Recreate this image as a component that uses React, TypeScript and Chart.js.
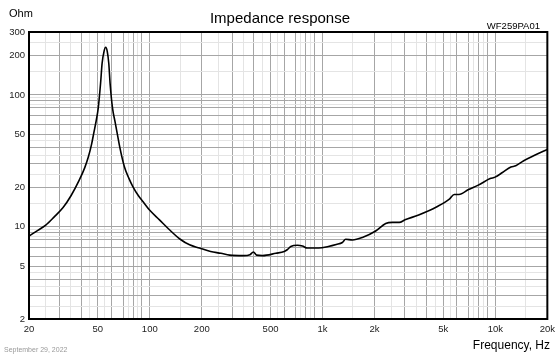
import React, { useEffect, useRef } from "react";
import { Chart, registerables } from "chart.js";

Chart.register(...registerables);

const freqHz = [
  20, 22.5, 25, 28, 31.5, 35, 39, 42, 44, 46, 47.5, 49, 50.3, 51.9, 53, 54.4, 55.6, 56.7, 57.9, 59, 60.9,
  62.9, 65, 67.1, 71.3, 75.5, 79.8, 86, 91.5, 99.7, 113.8, 130, 150, 170, 194, 225, 258, 290, 348, 380, 398, 415,
  450, 537, 600, 624, 655, 716, 765, 815, 950, 1080, 1200, 1302, 1360, 1490, 1700, 2030, 2320, 2540, 2780,
  3000, 3600, 4590, 5420, 5780, 6160, 7000, 7970, 9340, 9970, 11000, 12300, 13130, 14600, 17000, 20000,
];
const impedanceOhm = [
  8.5, 9.4, 10.3, 11.9, 14.0, 17.2, 22.5, 28, 33.5, 42, 52, 64, 79, 122, 174, 215, 230, 215, 174, 120, 79,
  63, 50, 40, 28.5, 23.5, 20.2, 17.2, 15.5, 13.4, 11.3, 9.5, 8.05, 7.3, 6.9, 6.5, 6.3, 6.1, 6.05, 6.15, 6.45, 6.1,
  6.05, 6.3, 6.5, 6.7, 7.1, 7.25, 7.15, 6.9, 6.9, 7.1, 7.35, 7.6, 8.05, 7.95, 8.3, 9.3, 10.6, 10.8, 10.8,
  11.3, 12.3, 14.2, 16.2, 17.6, 17.6, 19.2, 20.7, 23.2, 23.8, 25.8, 28.4, 29, 31.7, 35, 38.6,
];

const xTickLabels = [20, 50, 100, 200, 500, 1000, 2000, 5000, 10000, 20000];
const xTickText = ["20", "50", "100", "200", "500", "1k", "2k", "5k", "10k", "20k"];
const yTickLabels = [2, 5, 10, 20, 50, 100, 200, 300];
const yTickText = ["2", "5", "10", "20", "50", "100", "200", "300"];

const xMajorMults = [1, 2, 3, 4, 5, 6, 7, 8, 9];
const xMinorMults = [1.5, 2.5, 3.5, 4.5, 5.5, 7.5, 8.5];
const yMajorMults = [1, 2, 3, 4, 5, 6, 7, 8, 9];
const yMinorMults = [1.5, 2.5, 3.5, 4.5, 8.5, 9.5];

const FONT = "'Liberation Sans', Arial, sans-serif";

function buildGrid(min: number, max: number, major: number[], minor: number[]) {
  const out: { value: number; major: boolean }[] = [];
  for (let d = 1; d <= 100000; d *= 10) {
    major.forEach((m) => {
      const v = +(m * d).toPrecision(6);
      if (v >= min && v <= max) out.push({ value: v, major: true });
    });
    minor.forEach((m) => {
      const v = +(m * d).toPrecision(6);
      if (v >= min && v <= max) out.push({ value: v, major: false });
    });
  }
  out.sort((a, b) => a.value - b.value);
  return out;
}

const textPlugin = {
  id: "texts",
  afterDraw(chart: any) {
    const { ctx, chartArea } = chart;
    ctx.save();
    ctx.strokeStyle = "#000";
    ctx.lineWidth = 2;
    ctx.strokeRect(chartArea.left, chartArea.top, chartArea.right - chartArea.left, chartArea.bottom - chartArea.top);
    ctx.fillStyle = "#000";
    ctx.textBaseline = "alphabetic";
    ctx.font = `15px ${FONT}`;
    ctx.textAlign = "center";
    ctx.fillText("Impedance response", 280, 23);
    ctx.font = `11px ${FONT}`;
    ctx.textAlign = "left";
    ctx.fillText("Ohm", 9, 17);
    ctx.font = `9.5px ${FONT}`;
    ctx.textAlign = "right";
    ctx.fillText("WF259PA01", 540, 28.5);
    ctx.font = `12px ${FONT}`;
    ctx.fillText("Frequency, Hz", 550, 349);
    ctx.font = `7px ${FONT}`;
    ctx.textAlign = "left";
    ctx.fillStyle = "#999";
    ctx.fillText("September 29, 2022", 4, 352);
    ctx.restore();
  },
};

export default function App() {
  const ref = useRef<HTMLCanvasElement>(null);
  useEffect(() => {
    if (!ref.current) return;
    const xGrid = buildGrid(20, 20000, xMajorMults, xMinorMults);
    const yGrid = buildGrid(2, 300, yMajorMults, yMinorMults);
    const xMajorSet = new Set(xGrid.filter((g) => g.major).map((g) => g.value));
    const yMajorSet = new Set(yGrid.filter((g) => g.major).map((g) => g.value));
    const chart = new Chart(ref.current, {
      type: "line",
      data: {
        datasets: [
          {
            data: freqHz.map((f, i) => ({ x: f, y: impedanceOhm[i] })),
            borderColor: "#000",
            borderWidth: 1.6,
            pointRadius: 0,
            cubicInterpolationMode: "monotone",
            fill: false,
          },
        ],
      },
      options: {
        responsive: false,
        animation: false,
        layout: { padding: { left: 0, top: 32, right: 11, bottom: 0 } },
        plugins: { legend: { display: false }, tooltip: { enabled: false }, title: { display: false } },
        scales: {
          x: {
            type: "logarithmic",
            min: 20,
            max: 20000,
            afterBuildTicks: (scale: any) => {
              scale.ticks = xGrid.map((g) => ({ value: g.value }));
            },
            afterFit: (scale: any) => {
              scale.height = 35;
            },
            grid: {
              drawTicks: false,
              color: (ctx: any) => (xMajorSet.has(ctx.tick?.value) ? "#a6a6a6" : "#e4e4e4"),
              lineWidth: 1,
            },
            border: { display: false },
            ticks: {
              autoSkip: false,
              maxRotation: 0,
              padding: 5,
              color: "#222",
              font: { family: FONT, size: 9.5 },
              callback: (v: any) => {
                const i = xTickLabels.indexOf(Number(v));
                return i >= 0 ? xTickText[i] : "";
              },
            },
          },
          y: {
            type: "logarithmic",
            min: 2,
            max: 300,
            afterBuildTicks: (scale: any) => {
              scale.ticks = yGrid.map((g) => ({ value: g.value }));
            },
            afterFit: (scale: any) => {
              scale.width = 29;
            },
            grid: {
              drawTicks: false,
              color: (ctx: any) => (yMajorSet.has(ctx.tick?.value) ? "#a6a6a6" : "#e4e4e4"),
              lineWidth: 1,
            },
            border: { display: false },
            ticks: {
              autoSkip: false,
              padding: 4,
              color: "#222",
              font: { family: FONT, size: 9.5 },
              callback: (v: any) => {
                const i = yTickLabels.indexOf(Number(v));
                return i >= 0 ? yTickText[i] : "";
              },
            },
          },
        },
      },
      plugins: [textPlugin],
    });
    return () => chart.destroy();
  }, []);
  return (
    <div style={{ position: "fixed", left: 0, top: 0, width: 560, height: 354, background: "#fff" }}>
      <canvas ref={ref} width={560} height={354} style={{ display: "block", width: 560, height: 354 }} />
    </div>
  );
}
